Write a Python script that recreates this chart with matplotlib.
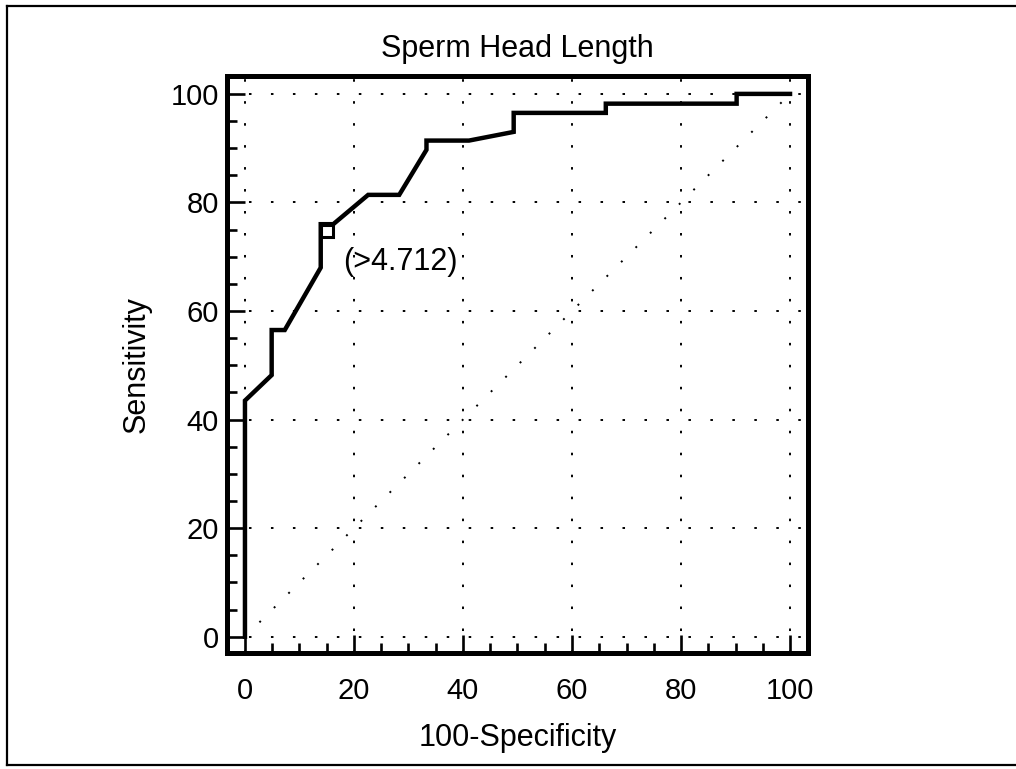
"""
ROC curve for sperm head length, redrawn as a single-panel figure.
Saves to out.png.
"""
import matplotlib
matplotlib.use("Agg")
import matplotlib.pyplot as plt
from matplotlib.lines import Line2D
from matplotlib.ticker import MultipleLocator

# ROC curve points (percent)
FPR = [0, 0, 4.9, 4.9, 7.3, 13.9, 13.9, 16.2, 22.6, 28.3, 33.3, 33.3,
       41.1, 49.3, 49.3, 66.2, 66.2, 90.2, 90.2, 100]
TPR = [0, 43.5, 48.2, 56.5, 56.5, 68.0, 76.0, 76.0, 81.4, 81.4, 89.7, 91.4,
       91.4, 93.0, 96.5, 96.5, 98.2, 98.2, 100, 100]

# optimal cut-off point and its label
CUT_X = [15.0]
CUT_Y = [74.8]
CUT_LABEL = "(>4.712)"

REF_LINE = [0, 100]
MAJOR_TICKS = [0, 20, 40, 60, 80, 100]

TITLE = "Sperm Head Length"
XLABEL = "100-Specificity"
YLABEL = "Sensitivity"

FONT = 21
LABEL_FONT = 22
INK = "black"

plt.rcParams["font.family"] = ["Liberation Sans", "DejaVu Sans"]

fig = plt.figure(figsize=(10.16, 7.69), dpi=100)
fig.patch.set_facecolor("white")
ax = fig.add_axes([0.2234, 0.1508, 0.7953 - 0.2234, 0.9012 - 0.1508])

# dotted grid + chance diagonal
dots = (0, (1.3, 10))
for t in MAJOR_TICKS:
    ax.axhline(t, color=INK, lw=1.4, linestyle=dots, zorder=1)
    ax.axvline(t, color=INK, lw=1.4, linestyle=dots, zorder=1)
ax.plot(REF_LINE, REF_LINE, color=INK, lw=1.4, linestyle=(0, (1, 9.5)), zorder=1)

ax.plot(FPR, TPR, color=INK, lw=3.2, solid_joinstyle="miter", zorder=3)
ax.plot(CUT_X, CUT_Y, marker="s", ms=8.5, mfc="white", mec=INK, mew=2.2,
        linestyle="none", zorder=4)
ax.text(18.0, 67.5, CUT_LABEL, fontsize=LABEL_FONT, ha="left", va="baseline",
        color=INK)

ax.set_xlim(-3.3, 103.3)
ax.set_ylim(-3.0, 103.3)

ax.xaxis.set_major_locator(MultipleLocator(20))
ax.yaxis.set_major_locator(MultipleLocator(20))
ax.xaxis.set_minor_locator(MultipleLocator(5))
ax.yaxis.set_minor_locator(MultipleLocator(5))

ax.tick_params(which="both", direction="in", top=False, right=False,
               color=INK, labelsize=FONT)
ax.tick_params(which="major", length=13, width=1.9)
ax.tick_params(which="minor", length=7, width=1.9)
ax.tick_params(axis="x", which="major", pad=17)
ax.tick_params(axis="y", which="major", pad=6)

for spine in ax.spines.values():
    spine.set_linewidth(3.6)
    spine.set_color(INK)

ax.set_title(TITLE, fontsize=LABEL_FONT, pad=13.5)
ax.set_xlabel(XLABEL, fontsize=LABEL_FONT)
ax.set_ylabel(YLABEL, fontsize=LABEL_FONT)
ax.xaxis.set_label_coords(0.5, -0.121)
ax.yaxis.set_label_coords(-0.129, 0.5)

# thin frame around the figure (right side cut off in the original)
lx, ty, by = 7 / 1016, 1 - 6 / 769, 1 - 765 / 769
for xs, ys in [([lx, 1.0], [ty, ty]), ([lx, 1.0], [by, by]), ([lx, lx], [by, ty])]:
    fig.add_artist(Line2D(xs, ys, color=INK, lw=1.6, transform=fig.transFigure))

fig.savefig("out.png", dpi=100, facecolor="white")
plt.close(fig)
